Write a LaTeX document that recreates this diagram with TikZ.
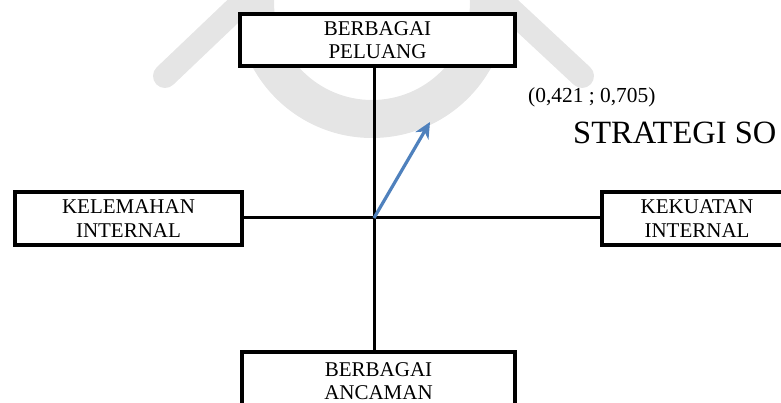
\documentclass[tikz,border=0pt]{standalone}
\usepackage{fontspec}
\setmainfont{Liberation Serif}
\usetikzlibrary{arrows.meta}
\definecolor{arrowblue}{RGB}{79,129,189}
\definecolor{wm}{RGB}{229,229,229}
\begin{document}
\begin{tikzpicture}[x=1pt,y=-1pt,
  box/.style={draw=black,line width=3.1pt,rectangle,align=center,inner sep=0pt,
    font=\fontsize{21}{23.5}\selectfont},
  conn/.style={draw=black,line width=3pt}]
\useasboundingbox (0,0) rectangle (781,403);
% faint watermark
\fill[wm,even odd rule] (372,2) circle[radius=136pt] (372,2) circle[radius=98pt];
\draw[wm,line width=24pt,line cap=round] (495,-5) -- (582,76);
\draw[wm,line width=24pt,line cap=round] (250,-5) -- (165,76);
% boxes
\node[box,minimum width=275pt,minimum height=52pt,fill=white] (top) at (377.5,40) {BERBAGAI\\PELUANG};
\node[box,minimum width=227pt,minimum height=53pt] (left) at (128.5,218.5) {KELEMAHAN\\INTERNAL};
\node[box,minimum width=190pt,minimum height=53pt] (right) at (697,218.5) {KEKUATAN\\INTERNAL};
\node[box,minimum width=273pt,minimum height=58pt] (bot) at (378.5,381) {BERBAGAI\\ANCAMAN};
\coordinate (c) at (374,218);
\coordinate (tip) at (430,122);
\draw[conn] (c |- top.south) -- (c |- bot.north);
\draw[conn] (left.east |- c) -- (right.west |- c);
\draw[arrowblue,line width=3.2pt,-{Stealth[length=16pt,width=15pt,inset=5pt]}] (c) -- (tip);
\node[anchor=west,inner sep=0pt,font=\fontsize{21.4}{24}\selectfont] (coord) at (528,97) {(0,421 ; 0,705)};
\node[anchor=west,inner sep=0pt,font=\fontsize{32.5}{38}\selectfont] (so) at (573,133) {STRATEGI SO};
\end{tikzpicture}
\end{document}
